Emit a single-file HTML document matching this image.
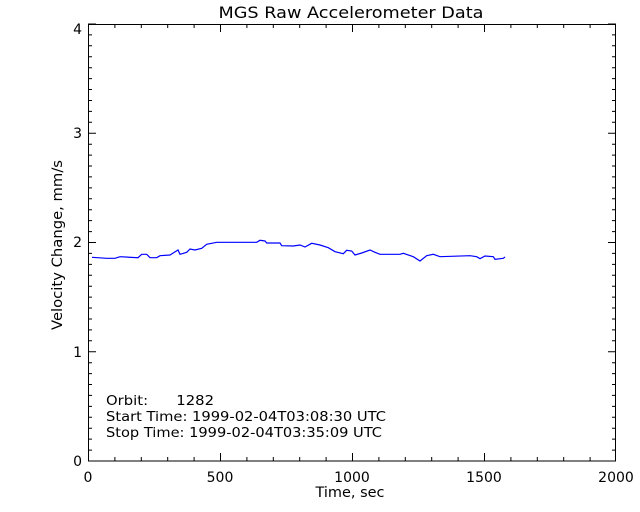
<!DOCTYPE html>
<html><head><style>body{margin:0;background:#fff}svg{display:block}text{font-family:"DejaVu Sans","Liberation Sans",sans-serif;fill:#000}</style></head>
<body>
<svg width="640" height="512" xmlns="http://www.w3.org/2000/svg">
<rect width="640" height="512" fill="#fff"/>
<text x="351" y="18" font-size="16" text-anchor="middle" textLength="265" lengthAdjust="spacingAndGlyphs">MGS Raw Accelerometer Data</text>
<rect x="88.5" y="24.5" width="527" height="436.5" fill="none" stroke="#000"/>
<g stroke="#000">
<path d="M88.5 461v-8M220.5 461v-8M352.5 461v-8M484.5 461v-8M615.5 461v-8M88.5 24v8M220.5 24v8M352.5 24v8M484.5 24v8M615.5 24v8"/>
<path d="M114.9 461v-4M141.3 461v-4M167.7 461v-4M194.1 461v-4M246.9 461v-4M273.3 461v-4M299.7 461v-4M326.1 461v-4M378.9 461v-4M405.3 461v-4M431.7 461v-4M458.1 461v-4M510.9 461v-4M537.3 461v-4M563.7 461v-4M590.1 461v-4"/>
<path d="M114.9 24v4M141.3 24v4M167.7 24v4M194.1 24v4M246.9 24v4M273.3 24v4M299.7 24v4M326.1 24v4M378.9 24v4M405.3 24v4M431.7 24v4M458.1 24v4M510.9 24v4M537.3 24v4M563.7 24v4M590.1 24v4"/>
</g>
<g stroke="#000" id="yt"></g>
<text x="88" y="482" font-size="14" text-anchor="middle">0</text>
<text x="220" y="482" font-size="14" text-anchor="middle">500</text>
<text x="352" y="482" font-size="14" text-anchor="middle">1000</text>
<text x="484" y="482" font-size="14" text-anchor="middle">1500</text>
<text x="616" y="482" font-size="14" text-anchor="middle">2000</text>
<text x="82" y="466" font-size="14" text-anchor="end">0</text>
<text x="82" y="357" font-size="14" text-anchor="end">1</text>
<text x="82" y="247" font-size="14" text-anchor="end">2</text>
<text x="82" y="138" font-size="14" text-anchor="end">3</text>
<text x="82" y="34" font-size="14" text-anchor="end">4</text>
<text x="350" y="497" font-size="14" text-anchor="middle" textLength="69" lengthAdjust="spacingAndGlyphs">Time, sec</text>
<text transform="translate(62,245) rotate(-90)" font-size="14" text-anchor="middle" textLength="170" lengthAdjust="spacingAndGlyphs">Velocity Change, mm/s</text>
<text x="106" y="405" font-size="13.5" textLength="108" lengthAdjust="spacingAndGlyphs" xml:space="preserve">Orbit:      1282</text>
<text x="106" y="421" font-size="13.5" textLength="280" lengthAdjust="spacingAndGlyphs">Start Time: 1999-02-04T03:08:30 UTC</text>
<text x="106" y="437" font-size="13.5" textLength="276" lengthAdjust="spacingAndGlyphs">Stop Time: 1999-02-04T03:35:09 UTC</text>
<polyline fill="none" stroke="#0000ff" stroke-width="1.2" points="92,257.3 106.7,258.3 115,258.3 120,256.7 138,257.7 141.7,254.3 146.7,254.3 150,257.7 156.7,257.7 160,255.7 170,255 178,250 180,254.3 186.7,252.3 190,249 195,250 201.7,248.3 206.7,244.3 216.7,242.3 256.7,242.3 260,240.3 265,241 266.7,243 280,243 281.7,245.7 293.3,246 300,245 305,247 311.7,243.3 320,245 328.3,247.7 335,251.7 343.3,253.7 346.7,250.3 351.7,251 355,255 361.7,253 370,250 375,252.3 380,254.3 400,254.3 403.3,253.3 413.3,256.7 420,261 426.7,255.7 433.3,254.3 440,256.7 470,255.7 476.7,256.7 480,258.7 485,256 493.3,256.7 495,259.3 503.3,258.3 505,257"/>
<script>
var g=document.getElementById('yt'),d='';
for(var i=0;i<=40;i++){var y=461-i*10.925;var L=(i%10==0)?8:4;d+='M88 '+y.toFixed(1)+'h'+L+'M616 '+y.toFixed(1)+'h-'+L;}
var p=document.createElementNS('http://www.w3.org/2000/svg','path');p.setAttribute('d',d);g.appendChild(p);
</script>
</svg>
</body></html>
